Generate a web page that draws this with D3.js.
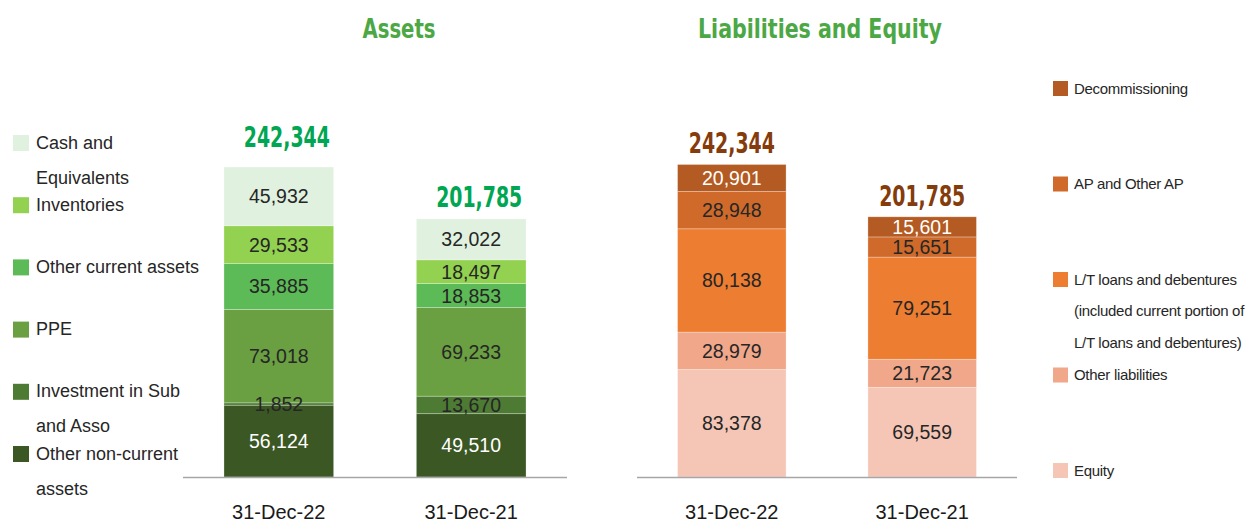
<!DOCTYPE html>
<html>
<head>
<meta charset="utf-8">
<script src="https://cdn.jsdelivr.net/npm/d3@7"></script>
<style>
  body { margin: 0; background: #fff; }
  svg { display: block; }
</style>
</head>
<body>
<div id="chart"></div>
<script>
const periods = ["31-Dec-22", "31-Dec-21"];

// stacking order: bottom -> top
const assetNames = ["Other non-current assets", "Investment in Sub and Asso", "PPE",
    "Other current assets", "Inventories", "Cash and Equivalents"];
const assetValues = [
    [56124, 49510],
    [1852, 13670],
    [73018, 69233],
    [35885, 18853],
    [29533, 18497],
    [45932, 32022]
];
const assetTotals = [242344, 201785];

const liabNames = ["Equity", "Other liabilities", "L/T loans and debentures", "AP and Other AP", "Decommissioning"];
const liabValues = [
    [83378, 69559],
    [28979, 21723],
    [80138, 79251],
    [28948, 15651],
    [20901, 15601]
];
const liabTotals = [242344, 201785];

// legend texts (top -> bottom), wrapped like the original
const assetLegend = [
    ["Cash and", "Equivalents"],
    ["Inventories"],
    ["Other current assets"],
    ["PPE"],
    ["Investment in Sub", "and Asso"],
    ["Other non-current", "assets"]
];
const liabLegend = [
    ["Decommissioning"],
    ["AP and Other AP"],
    ["L/T loans and debentures", "(included current portion of", "L/T loans and debentures)"],
    ["Other liabilities"],
    ["Equity"]
];

const assetColors = ["#3b5724", "#4d7b33", "#6aa042", "#5cbb56", "#93d150", "#e1f1df"];
const liabColors = ["#f5c6b6", "#f1a78a", "#ed7d31", "#d06a2b", "#b35b22"];
const assetWhite = [true, false, false, false, false, false];
const liabWhite = [false, false, false, false, true];

const W = 1251, H = 523;
const BASE = 477;
const labelFont = "'Liberation Sans', Arial, sans-serif";
const boldFont = "'DejaVu Sans Condensed', 'DejaVu Sans', sans-serif";

const svg = d3.select("#chart").append("svg")
    .attr("width", W)
    .attr("height", H);

function panel(opts) {
    const x = d3.scaleBand()
        .domain(periods)
        .range(opts.xRange)
        .paddingInner(0.43)
        .paddingOuter(0.213);
    const y = d3.scaleLinear()
        .domain([0, d3.max(opts.totals)])
        .range([BASE, opts.top]);

    const rows = periods.map((p, j) => {
        const r = { period: p };
        opts.names.forEach((n, i) => r[n] = opts.values[i][j]);
        return r;
    });
    const series = d3.stack().keys(opts.names)(rows);
    const cells = series.flatMap(s => s.map(v => ({ v, idx: s.index })));

    const g = svg.append("g");

    g.selectAll("rect.seg")
        .data(cells)
        .enter()
        .append("rect")
        .attr("class", "seg")
        .attr("x", d => x(d.v.data.period))
        .attr("width", x.bandwidth())
        .attr("y", d => y(d.v[1]))
        .attr("height", d => y(d.v[0]) - y(d.v[1]))
        .attr("fill", d => opts.colors[d.idx])
        .attr("stroke", "rgba(255,255,255,0.35)")
        .attr("stroke-width", 0.8);

    // values drawn after all rects so thin segments keep their label
    g.selectAll("text.val")
        .data(cells)
        .enter()
        .append("text")
        .attr("class", "val")
        .attr("x", d => x(d.v.data.period) + x.bandwidth() / 2)
        .attr("y", d => (y(d.v[0]) + y(d.v[1])) / 2 + 7)
        .attr("text-anchor", "middle")
        .attr("font-family", labelFont)
        .attr("font-size", "19.5px")
        .attr("fill", d => opts.white[d.idx] ? "#ffffff" : "#262626")
        .text(d => d3.format(",")(d.v[1] - d.v[0]));

    // totals above bars
    g.selectAll("text.total")
        .data(opts.totals)
        .enter()
        .append("text")
        .attr("class", "total")
        .attr("x", (d, i) => x(periods[i]) + x.bandwidth() / 2 + opts.totalDx)
        .attr("y", (d, i) => y(d) - opts.totalGap[i])
        .attr("text-anchor", "middle")
        .attr("font-family", boldFont)
        .attr("font-weight", "bold")
        .attr("font-size", "28px")
        .attr("textLength", 86)
        .attr("lengthAdjust", "spacingAndGlyphs")
        .attr("fill", opts.totalColor)
        .text(d => d3.format(",")(d));

    // baseline
    g.append("line")
        .attr("x1", opts.xRange[0])
        .attr("x2", opts.xRange[1])
        .attr("y1", BASE + 0.5)
        .attr("y2", BASE + 0.5)
        .attr("stroke", "#a6a6a6")
        .attr("stroke-width", 1.5);

    // category labels
    g.selectAll("text.cat")
        .data(periods)
        .enter()
        .append("text")
        .attr("class", "cat")
        .attr("x", d => x(d) + x.bandwidth() / 2)
        .attr("y", 519)
        .attr("text-anchor", "middle")
        .attr("font-family", labelFont)
        .attr("font-size", "20px")
        .attr("fill", "#1a1a1a")
        .text(d => d);

    // title
    svg.append("text")
        .attr("x", opts.titleX)
        .attr("y", 38)
        .attr("text-anchor", "middle")
        .attr("font-family", boldFont)
        .attr("font-weight", "bold")
        .attr("font-size", "26px")
        .attr("textLength", opts.titleLen)
        .attr("lengthAdjust", "spacingAndGlyphs")
        .attr("fill", "#4ca844")
        .text(opts.title);
}

panel({
    names: assetNames, values: assetValues, totals: assetTotals,
    colors: assetColors, white: assetWhite,
    xRange: [183, 567], top: 167,
    totalColor: "#00a651", totalGap: [20, 12], totalDx: 8,
    title: "Assets", titleX: 399, titleLen: 73
});

panel({
    names: liabNames, values: liabValues, totals: liabTotals,
    colors: liabColors, white: liabWhite,
    xRange: [637, 1017], top: 164.5,
    totalColor: "#843c0c", totalGap: [12, 11], totalDx: 0,
    title: "Liabilities and Equity", titleX: 820, titleLen: 244
});

// legends
function legend(items, colors, o) {
    const lg = svg.append("g").attr("transform", `translate(${o.x}, ${o.y})`);
    const it = lg.selectAll("g.item")
        .data(items)
        .enter()
        .append("g")
        .attr("class", "item")
        .attr("transform", (d, i) => `translate(0, ${i * o.step})`);
    it.append("rect")
        .attr("width", o.size)
        .attr("height", o.size)
        .attr("fill", (d, i) => colors[i]);
    it.selectAll("text")
        .data(d => d)
        .enter()
        .append("text")
        .attr("x", o.tx)
        .attr("y", (d, k) => o.ty + k * o.lh)
        .attr("font-family", labelFont)
        .attr("font-size", o.fs)
        .attr("letter-spacing", o.ls)
        .attr("fill", "#262626")
        .text(d => d);
}

legend(assetLegend, assetColors.slice().reverse(),
    { x: 13, y: 135, step: 62.2, size: 16, tx: 23, ty: 13.5, lh: 35, fs: "18px", ls: 0 });
legend(liabLegend, liabColors.slice().reverse(),
    { x: 1053, y: 81, step: 95.5, size: 15, tx: 21, ty: 12.5, lh: 31.7, fs: "15px", ls: -0.3 });
</script>
</body>
</html>
